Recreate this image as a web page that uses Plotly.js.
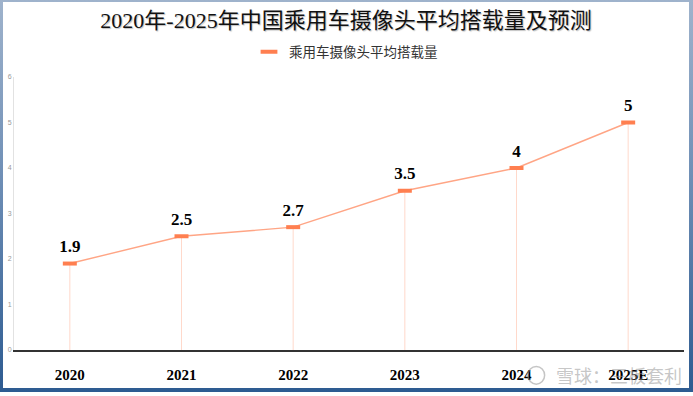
<!DOCTYPE html>
<html>
<head>
<meta charset="utf-8">
<script src="https://cdn.plot.ly/plotly-3.0.1.min.js"></script>
<style>
  html, body { margin: 0; padding: 0; background: #ffffff; }
  #wrap { position: relative; width: 693px; height: 396px; background: #ffffff; overflow: hidden; }
  #frame { position: absolute; left: 0; top: 0; width: 693px; height: 392px;
           background: linear-gradient(to bottom, #9fb3cc 0%, #6f8fb6 45%, #2d5b91 100%); }
  #chart { position: absolute; left: 3px; top: 2px; width: 686px; height: 386px; background: #fff; }
</style>
</head>
<body>
<div id="wrap"><div id="frame"></div><div id="chart"></div></div>
<script>
const years = ['2020', '2021', '2022', '2023', '2024', '2025E'];
const yearLabels = ['2020', '2021', '2022', '2023', '2024', '2025E'];
const cameraCounts = [1.9, 2.5, 2.7, 3.5, 4, 5];
const seriesName = '乘用车摄像头平均搭载量';
const chartTitle = '2020年-2025年中国乘用车摄像头平均搭载量及预测';
const watermark = '雪球：三板套利';

const serif = '"Liberation Serif", "Noto Sans CJK SC", serif';

const main = {
  x: years,
  y: cameraCounts,
  type: 'scatter',
  mode: 'lines+markers+text',
  showlegend: false,
  name: seriesName,
  line: { color: '#FFA585', width: 1.4 },
  marker: { symbol: 'line-ew', size: 10, line: { color: '#FF7F50', width: 4 } },
  text: cameraCounts.map(String),
  textposition: 'top center',
  textfont: { family: serif, size: 17, color: '#000', weight: 'bold' },
  error_y: {
    type: 'data', symmetric: false,
    array: cameraCounts.map(() => 0),
    arrayminus: cameraCounts,
    width: 0, thickness: 1, color: 'rgba(255,170,140,0.45)'
  },
  cliponaxis: false,
  hoverinfo: 'x+y'
};

const legendEntry = {
  x: [null], y: [null],
  type: 'scatter', mode: 'markers',
  name: seriesName,
  showlegend: true,
  marker: { symbol: 'line-ew', size: 12, line: { color: '#FF7F50', width: 4 } }
};

const layout = {
  width: 686, height: 386,
  margin: { l: 11, r: 5, t: 75, b: 38 },
  paper_bgcolor: '#ffffff',
  plot_bgcolor: '#ffffff',
  title: {
    text: chartTitle,
    font: { family: serif, size: 22, color: '#111', shadow: '1px 1px 1px rgba(0,0,0,0.25)' },
    x: 0.5, xanchor: 'center', xref: 'container',
    y: 1 - 18 / 386, yanchor: 'middle', yref: 'container'
  },
  showlegend: true,
  legend: {
    orientation: 'h', x: 0.5, xanchor: 'center', xref: 'container',
    y: 1 - 50 / 386, yanchor: 'middle', yref: 'container',
    font: { family: serif, size: 13.5, color: '#333' },
    itemwidth: 30
  },
  xaxis: {
    type: 'category',
    range: [-0.5, 5.5],
    tickvals: years, ticktext: yearLabels,
    showgrid: false, zeroline: false,
    showline: true, linecolor: '#333', linewidth: 2,
    ticks: '',
    ticklabelstandoff: 10,
    tickfont: { family: serif, size: 15, color: '#000', weight: 'bold' },
    fixedrange: true
  },
  yaxis: {
    range: [0, 6], dtick: 1,
    showgrid: false, zeroline: false,
    showline: true, linecolor: '#e2e2e2', linewidth: 1,
    ticks: '',
    tickfont: { family: 'Liberation Sans, Arial, sans-serif', size: 7, color: '#999' },
    fixedrange: true
  },
  annotations: [{
    text: watermark, xref: 'paper', yref: 'paper',
    x: 1.0, xanchor: 'right', y: -0.09, yanchor: 'middle',
    showarrow: false,
    font: { family: '"Noto Sans CJK SC", sans-serif', size: 18, color: 'rgba(150,150,150,0.55)' }
  }],
  shapes: [{
    type: 'circle', xref: 'paper', yref: 'paper',
    x0: 0.767, x1: 0.792, y0: -0.125, y1: -0.06,
    line: { color: 'rgba(150,150,150,0.55)', width: 1.5 }
  }]
};

Plotly.newPlot('chart', [main, legendEntry], layout, { displayModeBar: false, staticPlot: true });
</script>
</body>
</html>
